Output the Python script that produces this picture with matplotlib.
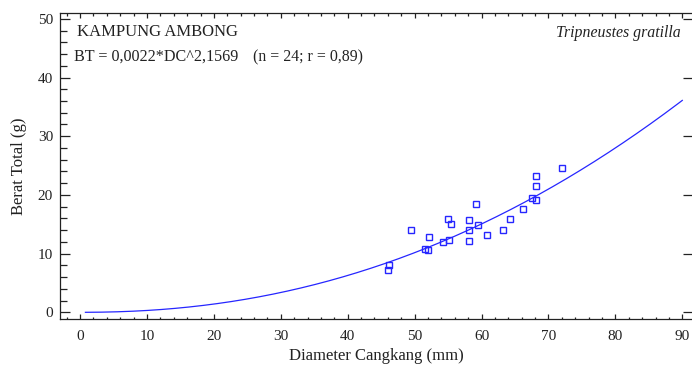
import numpy as np
import matplotlib
matplotlib.use("Agg")
import matplotlib.pyplot as plt
from matplotlib.ticker import MultipleLocator

# Shell diameter (mm) and total weight (g) of sampled urchins
diameter_mm = [71.97, 68.13, 68.13, 67.49, 68.13, 59.13, 66.15, 55.04,
               55.40, 58.13, 64.25, 49.52, 58.13, 59.52, 63.25, 60.78,
               52.21, 55.10, 54.30, 58.13, 51.57, 52.06, 46.24, 46.09]
weight_g = [24.53, 23.27, 21.52, 19.52, 19.08, 18.45, 17.55, 15.84,
            14.99, 15.78, 15.84, 14.07, 14.07, 14.82, 14.07, 13.22,
            12.78, 12.32, 11.93, 12.15, 10.78, 10.56, 8.01, 7.26]

# Fitted power model BT = a * DC^b
coef_a = 0.0022
coef_b = 2.1569
fit_range = (0.8, 90.0)

x_ticks = [0, 10, 20, 30, 40, 50, 60, 70, 80, 90]
y_ticks = [0, 10, 20, 30, 40, 50]

plt.rcParams['font.family'] = ['Liberation Serif', 'DejaVu Serif']

W, H = 692, 365
fig = plt.figure(figsize=(W / 100, H / 100), dpi=100)
left, right, top, bottom = 60.0, 693.0, 13.3, 319.3
ax = fig.add_axes([left / W, 1 - bottom / H, (right - left) / W, (bottom - top) / H])

ink = '#222222'
blue = (0.15, 0.15, 1.0)
xs = np.linspace(fit_range[0], fit_range[1], 300)
ax.plot(xs, coef_a * xs ** coef_b, color=blue, lw=0.9)
ax.plot(diameter_mm, weight_g, linestyle='none', marker='s', markersize=5,
        markerfacecolor='none', markeredgecolor=blue, markeredgewidth=1.0)

ax.set_xlim(-3.0, 91.6)
ax.set_ylim(-1.19, 50.94)
ax.set_xticks(x_ticks)
ax.set_yticks(y_ticks)
ax.xaxis.set_minor_locator(MultipleLocator(2))
ax.yaxis.set_minor_locator(MultipleLocator(2))
ax.tick_params(which='both', direction='in', top=True, right=True,
               colors=ink, labelsize=11, width=0.9)
# left axis: long ticks
ax.tick_params(axis='y', which='major', length=7.5, pad=5)
ax.tick_params(axis='y', which='minor', length=5, right=False)
# bottom/top axis: short ticks
ax.tick_params(axis='x', which='major', length=3.8, pad=8)
ax.tick_params(axis='x', which='minor', length=1.8)
for s in ax.spines.values():
    s.set_linewidth(0.9)
    s.set_color(ink)

ax.set_xlabel('Diameter Cangkang (mm)', fontsize=12, color=ink, labelpad=3)
ax.set_ylabel('Berat Total (g)', fontsize=12, color=ink, labelpad=8)

ax.text(77 / W, 1 - 32 / H, 'KAMPUNG AMBONG', transform=fig.transFigure,
        fontsize=12, color=ink, va='center', ha='left')
ax.text(74 / W, 1 - 57 / H, 'BT = 0,0022*DC^2,1569', transform=fig.transFigure,
        fontsize=11.6, color=ink, va='center', ha='left')
ax.text(253 / W, 1 - 57 / H, '(n = 24; r = 0,89)', transform=fig.transFigure,
        fontsize=11.4, color=ink, va='center', ha='left')
ax.text(681 / W, 1 - 33 / H, 'Tripneustes gratilla', transform=fig.transFigure,
        fontsize=11.4, style='italic', color=ink, va='center', ha='right')

fig.savefig('out.png', dpi=100)
